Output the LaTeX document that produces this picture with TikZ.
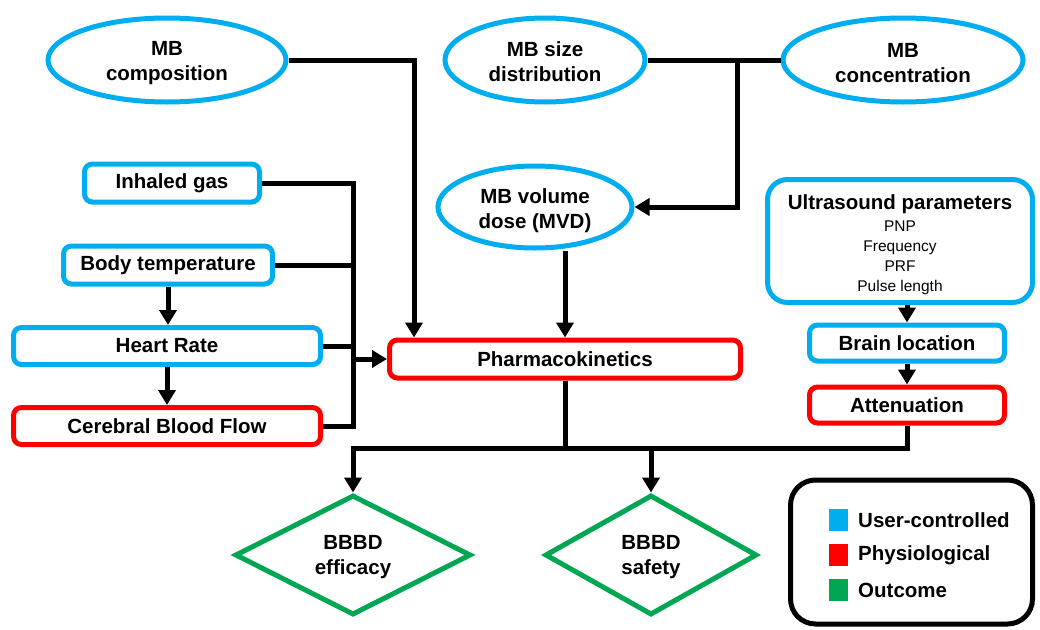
\documentclass[tikz,border=0pt]{standalone}
\usepackage{fontspec}
\setmainfont{Liberation Sans}
\usetikzlibrary{shapes.geometric,arrows.meta,calc}
\definecolor{ublue}{RGB}{0,174,239}
\definecolor{ured}{RGB}{255,0,0}
\definecolor{ugreen}{RGB}{0,166,81}
\newcommand{\myTopStrut}[1]{\rule{0pt}{#1}}
\begin{document}
\begin{tikzpicture}[x=1pt,y=-1pt,
  lbl/.style={font=\fontsize{20.5}{25}\selectfont\bfseries, align=center},
  oval/.style={lbl, ellipse, draw=ublue, line width=5pt, inner sep=0pt, fill=white},
  ubox/.style={lbl, rectangle, rounded corners=8pt, draw=ublue, line width=5pt, inner sep=0pt},
  pbox/.style={lbl, rectangle, rounded corners=8pt, draw=ured, line width=5pt, inner sep=0pt},
  obox/.style={lbl, diamond, draw=ugreen, line width=5pt, inner sep=0pt, aspect=2},
  conn/.style={line width=5pt, black},
  arr/.style={conn, -{Triangle[length=15pt,width=17pt]}},
  legsq/.style={rectangle, minimum width=19pt, minimum height=22pt, inner sep=0pt},
  legtxt/.style={lbl, anchor=west, inner sep=0pt},
  small/.style={}
]
\useasboundingbox (0,0) rectangle (1040,629);
\fill[white] (0,0) rectangle (1040,629);

% top ellipses
\node[oval, minimum width=238pt, minimum height=84pt] (comp) at (167,60) {\myTopStrut{21pt}MB\\composition};
\node[oval, minimum width=200pt, minimum height=84pt] (size) at (545,60) {\myTopStrut{19pt}MB size\\distribution};
\node[oval, minimum width=240pt, minimum height=84pt] (conc) at (903,60) {\myTopStrut{21pt}MB\\concentration};
\node[oval, minimum width=194pt, minimum height=82pt] (vol) at (535,207) {\myTopStrut{22pt}MB volume\\dose (MVD)};

% left column
\node[ubox, minimum width=175pt, minimum height=38pt] (gas) at (172,183) {Inhaled gas};
\node[ubox, minimum width=209pt, minimum height=38pt] (temp) at (168,265) {Body temperature};
\node[ubox, minimum width=307pt, minimum height=37pt] (hr) at (167,346) {Heart Rate};
\node[pbox, minimum width=307pt, minimum height=37pt] (cbf) at (167,426) {Cerebral Blood Flow};

% centre
\node[pbox, minimum width=351pt, minimum height=38pt] (pk) at (565,359) {Pharmacokinetics};

% right column
\node[ubox, rounded corners=20pt, minimum width=265pt, minimum height=123pt] (us) at (900,241)
  {\myTopStrut{23pt}Ultrasound parameters\\[-3pt]
   {\fontsize{15.5}{19.5}\selectfont\mdseries PNP}\\[-5pt]
   {\fontsize{15.5}{19.5}\selectfont\mdseries Frequency}\\[-5pt]
   {\fontsize{15.5}{19.5}\selectfont\mdseries PRF}\\[-5pt]
   {\fontsize{15.5}{19.5}\selectfont\mdseries Pulse length}};
\node[ubox, minimum width=195pt, minimum height=36pt] (brain) at (907,343) {Brain location};
\node[pbox, minimum width=195pt, minimum height=36pt] (att) at (907,405) {Attenuation};

% outcomes
\node[obox, minimum width=236pt, minimum height=120pt] (eff) at (353,555) {\myTopStrut{18pt}BBBD\\efficacy};
\node[obox, minimum width=212pt, minimum height=120pt] (saf) at (651,555) {\myTopStrut{18pt}BBBD\\safety};

% legend
\node[draw=black, line width=5pt, rounded corners=25pt, minimum width=242pt, minimum height=144pt, inner sep=0pt] (leg) at (911.5,552) {};
\node[legsq, fill=ublue] (sq1) at (838,520) {};
\node[legsq, fill=ured] (sq2) at (838,555) {};
\node[legsq, fill=ugreen] (sq3) at (838,590) {};
\node[legtxt] (t1) at (858,520) {User-controlled};
\node[legtxt] (t2) at (858,555) {Physiological};
\node[legtxt] (t3) at (858,590) {Outcome};

% helper coordinates
\coordinate (lbus) at (353,0);
\coordinate (j1) at (737,60);
\coordinate (bbus) at (0,448);
\coordinate (cbus) at (414,0);

% connectors
\draw[arr] (comp.east) -| (pk.north -| cbus);
\draw[conn] (size.east) -- (conc.west);
\draw[arr] (j1) |- (vol.east);
\draw[arr] (vol.south -| pk.north) -- (pk.north);

\draw[conn] (gas.east) -| (cbf.east -| lbus) -- (cbf.east);
\draw[conn] (temp.east) -- (temp.east -| lbus);
\draw[conn] (hr.east) -- (hr.east -| lbus);
\draw[arr] (pk.west -| lbus) -- (pk.west);
\draw[arr] (temp.south) -- (temp.south |- hr.north);
\draw[arr] (hr.south) -- (cbf.north);

\draw[arr] (us.south -| brain.north) -- (brain.north);
\draw[arr] (brain.south) -- (att.north);

\draw[arr] (att.south) |- (eff.north |- bbus) -- (eff.north);
\draw[conn] (pk.south) -- (pk.south |- bbus);
\draw[arr] (saf.north |- bbus) -- (saf.north);
\end{tikzpicture}
\end{document}
